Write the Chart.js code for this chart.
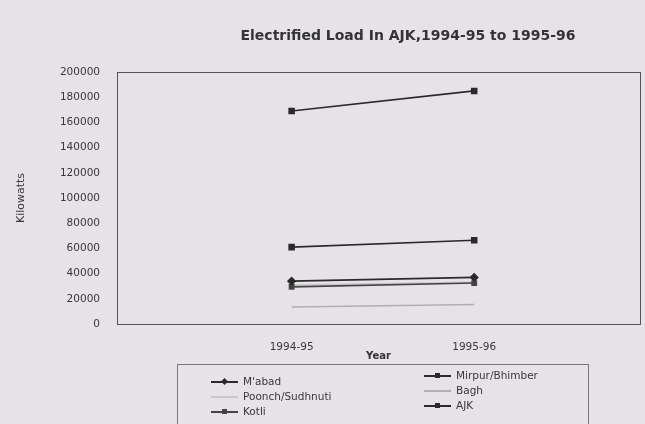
<!DOCTYPE html>
<html><head><meta charset="utf-8">
<script src="https://cdn.jsdelivr.net/npm/chart.js@4"></script>
<style>
html,body{margin:0;padding:0;background:#e5e3e7;}
#wrap{position:relative;width:645px;height:424px;overflow:hidden;background:#e5e3e7;}
canvas{position:absolute;left:0;top:0;}
#legend{position:absolute;left:177px;top:364px;width:410px;height:70px;border:1px solid #777;font:10.5px "DejaVu Sans",sans-serif;color:#383838;}
.item{position:absolute;height:13px;line-height:13px;white-space:nowrap;}
.ln{position:absolute;left:0;top:6px;width:27px;height:1.5px;}
.mk{position:absolute;}
.tx{position:absolute;left:32px;top:0;}
</style></head>
<body><div id="wrap"><canvas id="c" width="645" height="424"></canvas><div id="legend"></div></div>
<script>
const chartTitle = "Electrified Load In AJK,1994-95 to 1995-96";
const yTitle = "Kilowatts";
const xTitle = "Year";
const categories = ["1994-95", "1995-96"];
const seriesNames = ["M'abad", "Poonch/Sudhnuti", "Kotli", "Mirpur/Bhimber", "Bagh", "AJK"];
const mabad  = [34000, 37000];
const poonch = [31000, 33000];
const kotli  = [29500, 32500];
const mirpur = [61000, 66500];
const bagh   = [13500, 15500];
const ajk    = [169000, 185000];
const yTicks = [0, 20000, 40000, 60000, 80000, 100000, 120000, 140000, 160000, 180000, 200000];

const seriesValues = [mabad, poonch, kotli, mirpur, bagh, ajk];
const seriesColors = ["#2a2a2a", "#c8c6ca", "#444444", "#2a2a2a", "#b0aeb2", "#2a2a2a"];
const seriesMarkers = ["rectRot", false, "rect", "rect", false, "rect"];
const seriesRadius = [3.5, 0, 3, 3.5, 0, 3.5];

const datasets = seriesNames.map((name, k) => ({
  label: name,
  data: seriesValues[k].map((v, i) => ({x: i, y: v})),
  borderColor: seriesColors[k],
  backgroundColor: seriesColors[k],
  borderWidth: 1.6,
  pointStyle: seriesMarkers[k] || 'circle',
  pointRadius: seriesRadius[k],
  pointHoverRadius: seriesRadius[k],
  order: seriesMarkers[k] ? 0 : 1
}));

const frame = {
  id: 'frame',
  beforeDatasetsDraw(chart) {
    const {ctx, chartArea: a} = chart;
    ctx.save();
    ctx.strokeStyle = '#555';
    ctx.lineWidth = 1;
    ctx.strokeRect(Math.round(a.left) + 0.5, Math.round(a.top) + 0.5, Math.round(a.right - a.left), Math.round(a.bottom - a.top));
    ctx.restore();
  },
  afterDraw(chart) {
    const ctx = chart.ctx;
    ctx.save();
    ctx.font = 'bold 14px "DejaVu Sans", sans-serif';
    ctx.fillStyle = '#333';
    ctx.textAlign = 'center';
    ctx.textBaseline = 'middle';
    ctx.fillText(chartTitle, 408, 36);
    ctx.restore();
  }
};

const fontT = {family: '"DejaVu Sans", sans-serif', size: 10.5};

new Chart(document.getElementById('c'), {
  type: 'line',
  data: {datasets},
  options: {
    responsive: false,
    animation: false,
    devicePixelRatio: 1,
    layout: {padding: {top: 72, right: 1, left: 0, bottom: 0}},
    plugins: {legend: {display: false}, title: {display: false}, tooltip: {enabled: false}},
    scales: {
      x: {
        type: 'linear',
        min: -0.9565, max: 1.9076,
        grid: {display: false, drawTicks: false},
        border: {display: false},
        afterBuildTicks: s => { s.ticks = categories.map((c, i) => ({value: i})); },
        afterFit: s => { s.height = 100; },
        ticks: {font: fontT, color: '#383838', padding: 17, autoSkip: false, maxRotation: 0,
          callback: v => categories[v] !== undefined ? categories[v] : ''},
        title: {display: true, text: xTitle, color: '#333',
          font: {family: '"DejaVu Sans", sans-serif', size: 10, weight: 'bold'},
          padding: {top: 10, bottom: 62}}
      },
      y: {
        min: 0, max: 200000,
        grid: {display: false, drawTicks: false},
        border: {display: false},
        afterBuildTicks: s => { s.ticks = yTicks.map(v => ({value: v})); },
        afterFit: s => { s.width = 117; },
        ticks: {font: fontT, color: '#383838', padding: 17, autoSkip: false, callback: v => String(v)},
        title: {display: true, text: yTitle, color: '#383838', font: {family: '"DejaVu Sans", sans-serif', size: 11}, padding: {top: 15, bottom: 15}}
      }
    }
  },
  plugins: [frame]
});

// HTML legend, two columns
const legendPos = [[33, 16], [33, 31], [33, 46], [246, 10], [246, 25], [246, 40]];
const leg = document.getElementById('legend');
seriesNames.forEach((name, k) => {
  const it = document.createElement('div');
  it.className = 'item';
  it.style.left = legendPos[k][0] + 'px';
  it.style.top = (legendPos[k][1] - 6) + 'px';
  const ln = document.createElement('div');
  ln.className = 'ln';
  ln.style.background = seriesColors[k];
  it.appendChild(ln);
  if (seriesMarkers[k]) {
    const mk = document.createElement('div');
    mk.className = 'mk';
    const s = 5;
    mk.style.width = s + 'px'; mk.style.height = s + 'px';
    mk.style.left = (13.5 - s / 2) + 'px'; mk.style.top = (6.75 - s / 2) + 'px';
    mk.style.background = seriesColors[k];
    if (seriesMarkers[k] === 'rectRot') mk.style.transform = 'rotate(45deg)';
    it.appendChild(mk);
  }
  const tx = document.createElement('span');
  tx.className = 'tx';
  tx.textContent = name;
  it.appendChild(tx);
  leg.appendChild(it);
});
</script>
</body></html>
